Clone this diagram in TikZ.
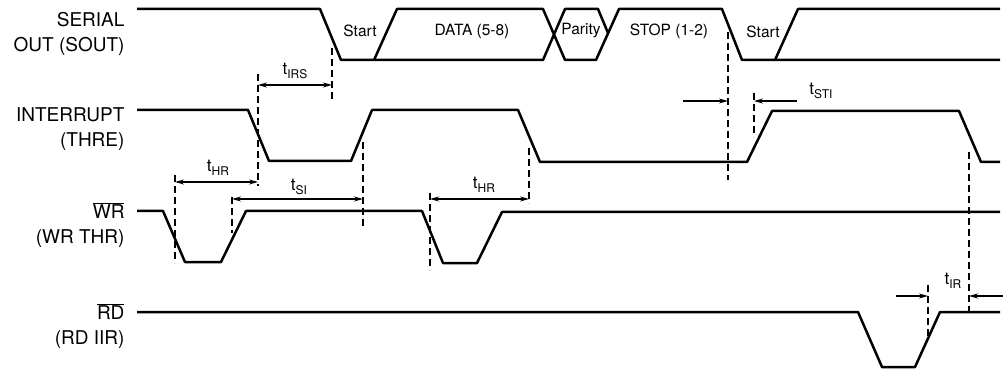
\documentclass[tikz,border=0pt]{standalone}
\usepackage{fontspec}
\setmainfont{TeX Gyre Heros}
\usetikzlibrary{arrows.meta}
\newcommand{\tsub}[1]{t\raisebox{-0.22em}{\fontsize{12}{12}\selectfont #1}}

\begin{document}
\begin{tikzpicture}[
  x=1pt, y=-1pt,
  sig/.style={line width=2.5pt, line join=round},
  guide/.style={line width=1.3pt, dash pattern=on 7pt off 4pt},
  dimline/.style={line width=1.1pt},
  dimone/.style={-{Stealth[length=9pt,width=5pt]}},
  dimboth/.style={{Stealth[length=9pt,width=5pt]}-{Stealth[length=9pt,width=5pt]}},
  siglabel/.style={anchor=east, align=right, font=\fontsize{19}{25}\selectfont},
  bitlabel/.style={font=\fontsize{15.5}{18}\selectfont},
  tlabel/.style={font=\fontsize{17}{18}\selectfont},
]
\useasboundingbox (0,0) rectangle (1003,371);

% ============ signal names ============
\node[siglabel] (lsout) at (128,34) {SERIAL\\OUT (SOUT)};
\node[siglabel] (lint) at (128,129) {INTERRUPT\\(THRE)};
\node[siglabel] (lwr) at (128,225) {$\overline{\mbox{WR}}$\\(WR THR)};
\node[siglabel] (lrd) at (128,326) {$\overline{\mbox{RD}}$\\(RD IIR)};

% ============ SOUT ============
\draw[sig] (137,9) -- (320,9) -- (341,60) -- (543,60) -- (565,9) -- (598,9) -- (608,33);
\draw[sig] (374,60) -- (397,9) -- (543,9) -- (565,60) -- (596,60) -- (619,9)
  -- (722,9) -- (742,60) -- (1000,60);
\draw[sig] (775,60) -- (798,9) -- (1000,9);
\node[bitlabel] (start1) at (360,31) {Start};
\node[bitlabel] (data) at (472,31) {DATA (5-8)};
\node[bitlabel] (parity) at (581,31) {Parity};
\node[bitlabel] (stop) at (669,31) {STOP (1-2)};
\node[bitlabel] (start2) at (763,32) {Start};

% ============ INTERRUPT ============
\draw[sig] (137,110) -- (248,110) -- (269,161) -- (351,161) -- (372,110) -- (518,110)
  -- (540,162) -- (747,162) -- (772,111) -- (959,111) -- (981,162) -- (1000,162);

% ============ WR ============
\draw[sig] (137,211) -- (163,211) -- (185,262) -- (221,262) -- (246,211) -- (422,211)
  -- (443,263) -- (477,263) -- (502,212) -- (1000,212);

% ============ RD ============
\draw[sig] (137,312) -- (858,312) -- (882,367) -- (915,367) -- (940,312) -- (1000,312);

% ============ guide lines ============
\foreach \g/\x/\ya/\yb in {irsL/258/74/186, irsR/332/48/102, hrAL/175/175/263,
    siL/232/197/233, siR/363/142/228, hrBL/430/193/270, hrBR/529/148/203,
    stiL/728/32/180, stiR/754/93/137, irL/928/285/337, irR/969/152/313}
  \draw[guide] (\x,\ya) coordinate (\g-top) -- (\x,\yb) coordinate (\g-bot);

% ============ timing arrows ============
\coordinate (rowIrs) at (0,85);
\coordinate (rowHrA) at (0,182);
\coordinate (rowSi) at (0,199);
\coordinate (rowHrB) at (0,199);
\coordinate (stiOutL) at (683,101);
\coordinate (stiOutR) at (797,101);
\coordinate (irOutL) at (896,296);
\coordinate (irOutR) at (1003,296);

\draw[dimline,dimboth] (irsL-top |- rowIrs) -- (irsR-top |- rowIrs);
\draw[dimline,dimboth] (hrAL-top |- rowHrA) -- (irsL-top |- rowHrA);
\draw[dimline,dimboth] (siL-top |- rowSi) -- (siR-top |- rowSi);
\draw[dimline,dimboth] (hrBL-top |- rowHrB) -- (hrBR-top |- rowHrB);
\draw[dimline,dimone] (stiOutL) -- (stiL-top |- stiOutL);
\draw[dimline,dimone] (stiOutR) -- (stiR-top |- stiOutR);
\draw[dimline,dimone] (irOutL) -- (irL-top |- irOutL);
\draw[dimline,dimone] (irOutR) -- (irR-top |- irOutR);

\node[tlabel] (tirs) at (295,71) {\tsub{IRS}};
\node[tlabel] (thra) at (218,168) {\tsub{HR}};
\node[tlabel] (tsi) at (299,187) {\tsub{SI}};
\node[tlabel] (thrb) at (484,185) {\tsub{HR}};
\node[tlabel] (tsti) at (821,91) {\tsub{STI}};
\node[tlabel] (tir) at (953,281) {\tsub{IR}};

\end{tikzpicture}
\end{document}
